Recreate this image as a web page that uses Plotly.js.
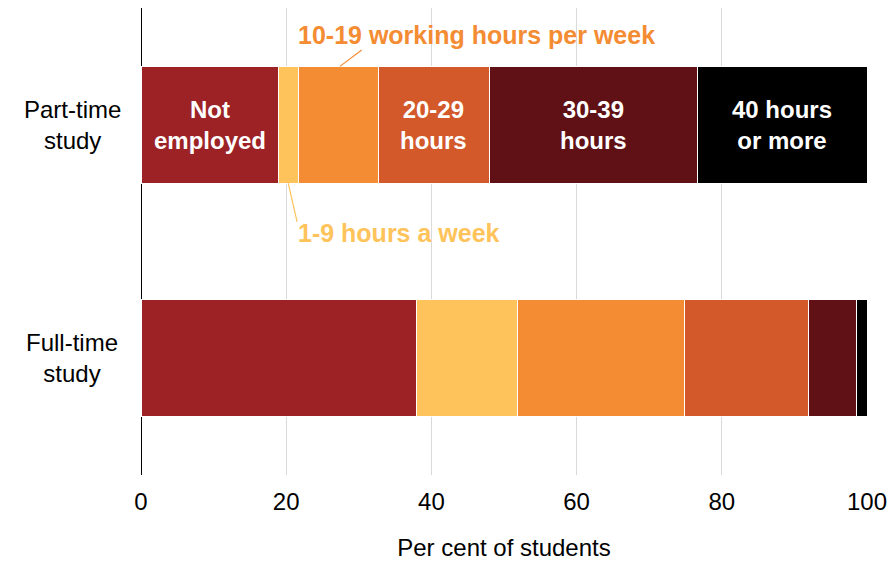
<!DOCTYPE html>
<html><head><meta charset="utf-8">
<script src="https://cdn.plot.ly/plotly-3.0.1.min.js"></script>
<style>body{margin:0;background:#fff}#c{width:890px;height:562px}</style>
</head><body><div id="c"></div>
<script>
const categories = ["Part-time<br>study", "Full-time<br>study"];
const seriesNames = ["Not employed", "1-9 hours a week", "10-19 working hours per week", "20-29 hours", "30-39 hours", "40 hours or more"];
const notEmployed = [18.9, 38.0];
const h1to9 = [2.75, 13.8];
const h10to19 = [11.0, 23.1];
const h20to29 = [15.3, 17.0];
const h30to39 = [28.7, 6.6];
const h40plus = [23.4, 1.5];
const insideLabels = ["Not<br>employed", "", "", "20-29<br>hours", "30-39<br>hours", "40 hours<br>or more"];
const xTicks = [0, 20, 40, 60, 80, 100];

const colors = ["#9C2226", "#FEC35A", "#F48C33", "#D3582A", "#5F1115", "#000000"];
const values = [notEmployed, h1to9, h10to19, h20to29, h30to39, h40plus];
const FONT = "Liberation Sans, Arial, sans-serif";
const FS = 24;

const traces = values.map((v, i) => ({
  type: "bar", orientation: "h", y: [0, 1], x: v, name: seriesNames[i],
  width: 0.5,
  marker: {color: colors[i], line: {color: "#ffffff", width: 1}},
  hoverinfo: "skip"
}));

const cum = [];
let acc = [0, 0];
values.forEach(v => { cum.push([acc[0], acc[1]]); acc = [acc[0] + v[0], acc[1] + v[1]]; });
const mid19 = cum[1][0] + h1to9[0] / 2;

const annotations = [
  {xref: "paper", yref: "y", x: -0.095, y: 0, text: categories[0], showarrow: false, xanchor: "center", yanchor: "middle", align: "center", font: {family: FONT, size: FS, color: "#000"}},
  {xref: "paper", yref: "y", x: -0.095, y: 1, text: categories[1], showarrow: false, xanchor: "center", yanchor: "middle", align: "center", font: {family: FONT, size: FS, color: "#000"}},
  {xref: "x", yref: "y", x: 21.4, y: -0.384, text: "<b>" + seriesNames[2] + "</b>", showarrow: false, xanchor: "left", yanchor: "middle", font: {family: FONT, size: 25, color: colors[2]}},
  {xref: "x", yref: "y", x: 21.3, y: 0.464, text: "<b>" + seriesNames[1] + "</b>", showarrow: false, xanchor: "left", yanchor: "middle", font: {family: FONT, size: 25, color: colors[1]}}
];
insideLabels.forEach((t, i) => {
  if (!t) return;
  annotations.push({xref: "x", yref: "y", x: cum[i][0] + values[i][0] / 2, y: 0, text: "<b>" + t + "</b>",
    showarrow: false, xanchor: "center", yanchor: "middle", align: "center",
    font: {family: FONT, size: FS, color: "#ffffff"}});
});

const shapes = [
  {type: "line", xref: "x", yref: "y", x0: 27.4, y0: -0.25, x1: 30.4, y1: -0.32, line: {color: colors[2], width: 1.2}},
  {type: "line", xref: "x", yref: "y", x0: mid19, y0: 0.25, x1: 21.5, y1: 0.416, line: {color: colors[1], width: 1.2}}
];

const layout = {
  width: 890, height: 562,
  margin: {l: 141, r: 23, t: 8, b: 87},
  paper_bgcolor: "#fff", plot_bgcolor: "#fff",
  barmode: "stack", showlegend: false,
  font: {family: FONT, color: "#000"},
  xaxis: {range: [0, 100], tickvals: xTicks, ticktext: xTicks.map(String),
    showgrid: true, gridcolor: "#d9d9d9", gridwidth: 1,
    zeroline: true, zerolinecolor: "#000", zerolinewidth: 1,
    showline: false, ticks: "", ticklen: 0, ticklabelstandoff: 10,
    tickfont: {family: FONT, size: FS, color: "#000"},
    title: {text: "Per cent of students", font: {family: FONT, size: FS, color: "#000"}, standoff: 25},
    fixedrange: true},
  yaxis: {range: [1.5, -0.5], tickvals: [0, 1], showticklabels: false, showgrid: false, zeroline: false, showline: false, fixedrange: true},
  annotations: annotations, shapes: shapes
};

Plotly.newPlot("c", traces, layout, {displayModeBar: false, staticPlot: true});
</script></body></html>
